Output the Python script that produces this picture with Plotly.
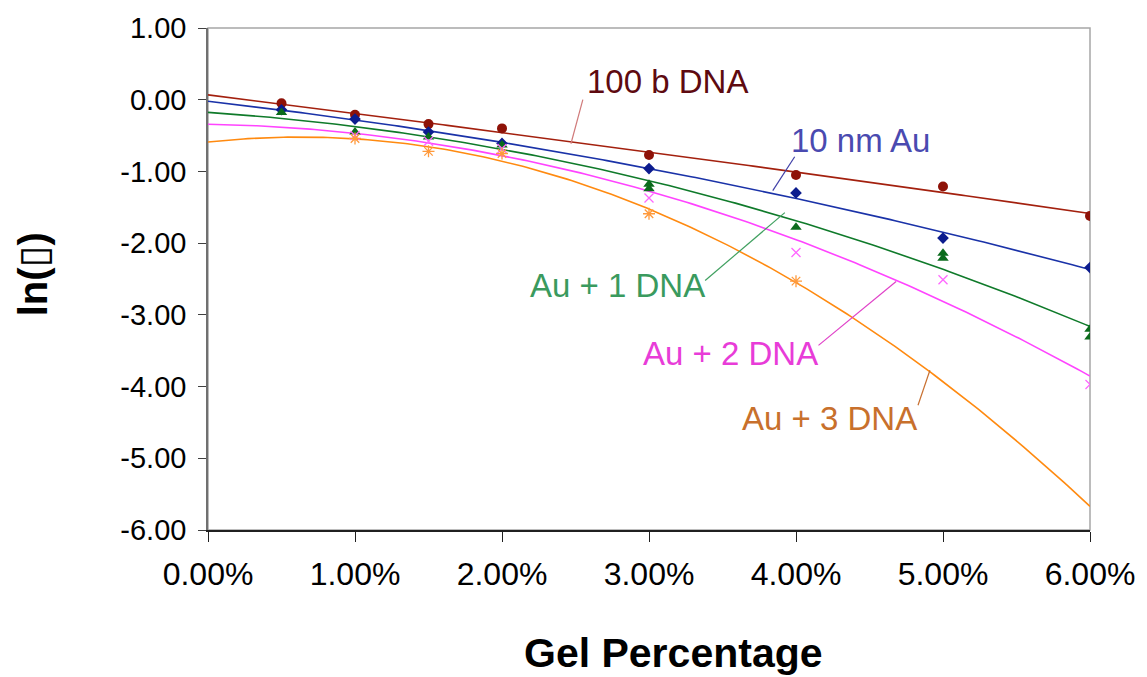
import numpy as np
import plotly.graph_objects as go

# Gel concentration (fraction) and ln(mobility) measurements for each sample
x_100b = [0.005, 0.01, 0.015, 0.02, 0.03, 0.04, 0.05, 0.06]
y_100b = [-0.05, -0.21, -0.34, -0.40, -0.77, -1.05, -1.21, -1.62]

x_au10 = [0.005, 0.01, 0.015, 0.02, 0.03, 0.04, 0.05, 0.06]
y_au10 = [-0.14, -0.27, -0.45, -0.61, -0.96, -1.30, -1.93, -2.34]

x_au1 = [0.005, 0.01, 0.015, 0.02, 0.03, 0.03, 0.04, 0.05, 0.05, 0.06, 0.06]
y_au1 = [-0.18, -0.45, -0.52, -0.63, -1.18, -1.24, -1.78, -2.14, -2.21, -3.20, -3.31]

x_au2 = [0.01, 0.015, 0.02, 0.03, 0.04, 0.05, 0.06]
y_au2 = [-0.50, -0.58, -0.68, -1.37, -2.13, -2.51, -3.97]

x_au3 = [0.01, 0.015, 0.02, 0.03, 0.04]
y_au3 = [-0.54, -0.72, -0.75, -1.59, -2.53]

y_tick_vals = [1, 0, -1, -2, -3, -4, -5, -6]
y_tick_text = ["1.00", "0.00", "-1.00", "-2.00", "-3.00", "-4.00", "-5.00", "-6.00"]

series = [
    dict(name="100 b DNA", x=x_100b, y=y_100b, symbol="circle", msize=10,
         mcolor="#8e1208", lcolor="#a3200e", label_color="#5e0a10",
         label_xy=(0.03125, 0.25), leader=((0.0255, 0.0), (0.02469, -0.614)),
         leader_color="#d07a7a"),
    dict(name="10 nm Au", x=x_au10, y=y_au10, symbol="diamond", msize=9,
         mcolor="#0c1c8e", lcolor="#1a32a8", label_color="#4a4ab0",
         label_xy=(0.04438, -0.57), leader=((0.03991, -0.795), (0.03842, -1.268)),
         leader_color="#4040a8"),
    dict(name="Au + 1 DNA", x=x_au1, y=y_au1, symbol="triangle-up", msize=10,
         mcolor="#0b6b1c", lcolor="#0f7a2a", label_color="#3a9a5e",
         label_xy=(0.02787, -2.59), leader=((0.03382, -2.521), (0.03924, -1.574)),
         leader_color="#40a060"),
    dict(name="Au + 2 DNA", x=x_au2, y=y_au2, symbol="x-thin-open", msize=9,
         mcolor="#ff66ff", lcolor="#ff44ff", label_color="#e83cd8",
         label_xy=(0.03551, -3.54), leader=((0.04153, -3.425), (0.04681, -2.535)),
         leader_color="#e040c8"),
    dict(name="Au + 3 DNA", x=x_au3, y=y_au3, symbol="asterisk-open", msize=10,
         mcolor="#ff9a3c", lcolor="#ff8a10", label_color="#c8702c",
         label_xy=(0.04228, -4.44), leader=((0.0483, -4.26), (0.04911, -3.773)),
         leader_color="#c87030"),
]

fig = go.Figure()
xs = np.linspace(0, 0.06, 200)

# second-order polynomial trendlines
for s in series:
    coef = np.polyfit(s["x"], s["y"], 2)
    fig.add_trace(go.Scatter(x=xs, y=np.polyval(coef, xs), mode="lines",
                             line=dict(color=s["lcolor"], width=1.6),
                             hoverinfo="skip", showlegend=False))

# measured points
for s in series:
    open_sym = s["symbol"].endswith("open")
    fig.add_trace(go.Scatter(
        x=s["x"], y=s["y"], mode="markers", name=s["name"], showlegend=False,
        marker=dict(symbol=s["symbol"], size=s["msize"], color=s["mcolor"],
                    line=dict(color=s["mcolor"], width=1.3 if open_sym else 0)),
    ))

# series labels with leader lines
for s in series:
    (x0, y0), (x1, y1) = s["leader"]
    fig.add_shape(type="line", xref="x", yref="y", x0=x0, y0=y0, x1=x1, y1=y1,
                  line=dict(color=s["leader_color"], width=1.2))
    fig.add_annotation(x=s["label_xy"][0], y=s["label_xy"][1], xref="x", yref="y",
                       text=s["name"], showarrow=False,
                       xanchor="center", yanchor="middle",
                       font=dict(family="Liberation Sans, Arial", size=33,
                                 color=s["label_color"]))

# plot-area frame
fig.add_shape(type="rect", xref="paper", yref="paper", x0=0, y0=0, x1=1, y1=1,
              line=dict(color="#a6a6a6", width=1.5), layer="below")

fig.add_annotation(xref="paper", yref="paper", x=0.528, y=-0.245,
                   xanchor="center", yanchor="middle",
                   text="<b>Gel Percentage</b>", showarrow=False,
                   font=dict(family="Liberation Sans, Arial", size=41, color="black"))
fig.add_annotation(xref="paper", yref="paper", x=-0.198, y=0.51,
                   xanchor="center", yanchor="middle",
                   text="<b>ln(\u25af)</b>", showarrow=False, textangle=-90,
                   font=dict(family="Liberation Sans, DejaVu Sans", size=40, color="black"))

fig.update_layout(
    width=1147, height=677,
    margin=dict(l=208, r=48, t=27, b=147),
    paper_bgcolor="white", plot_bgcolor="white",
    font=dict(family="Liberation Sans, Arial", color="black"),
    xaxis=dict(range=[0, 0.06], tickformat=".2%", dtick=0.01, tick0=0,
               showgrid=False, zeroline=False, showline=True,
               linecolor="#202020", linewidth=1.5,
               ticks="outside", ticklen=10, tickcolor="#202020",
               tickfont=dict(size=32), ticklabelstandoff=5),
    yaxis=dict(range=[-6, 1], tickvals=y_tick_vals, ticktext=y_tick_text,
               showgrid=False, zeroline=False, showline=True,
               linecolor="#707070", linewidth=1.5,
               ticks="outside", ticklen=8, tickcolor="#404040",
               tickfont=dict(size=29), ticklabelstandoff=6),
)

fig.write_html("out.html")
